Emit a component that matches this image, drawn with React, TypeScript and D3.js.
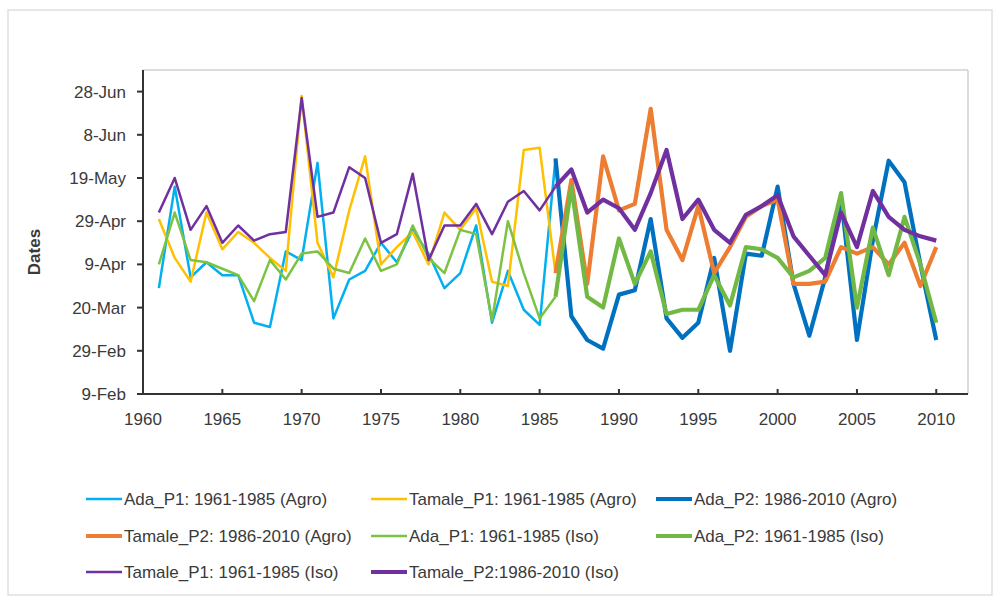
import React from "react";
import * as d3 from "d3";

// ---------- data (day-of-year in Excel serial style: 40 = 9-Feb) ----------
const yearsP1 = d3.range(1961, 1987); // 1961..1986 (P1 line joins the first P2 point)
const yearsP2 = d3.range(1986, 2011); // 1986..2010

const adaP1Agro = [89, 136, 94, 101, 95, 95, 73, 71, 106, 102, 147, 75, 93, 97, 110, 101, 116, 105, 89, 96, 118, 73, 97, 79, 72, 149];
const tamaleP1Agro = [121, 103, 92, 124, 107, 115, 110, 103, 97, 178, 110, 94, 125, 150, 100, 108, 115, 100, 124, 116, 126, 92, 90, 153, 154, 96];
const adaP2Agro = [149, 76, 65, 61, 86, 88, 121, 75, 66, 73, 103, 60, 105, 104, 136, 91, 67, 94, 131, 65, 111, 148, 138, 100, 65];
const tamaleP2Agro = [96, 139, 91, 150, 125, 128, 172, 116, 102, 127, 96, 108, 122, 127, 130, 91, 91, 92, 108, 105, 108, 100, 110, 90, 108];
const adaP1Iso = [100, 124, 102, 101, 98, 95, 83, 102, 93, 105, 106, 98, 96, 112, 97, 100, 118, 103, 96, 116, 114, 74, 120, 96, 75, 85];
const adaP2Iso = [85, 136, 85, 80, 112, 91, 106, 77, 79, 79, 95, 81, 108, 107, 103, 94, 97, 103, 133, 80, 117, 95, 122, 100, 73];
const tamaleP1Iso = [124, 140, 116, 127, 110, 118, 111, 114, 115, 177, 122, 124, 145, 140, 110, 114, 142, 102, 118, 118, 128, 114, 129, 134, 125, 136];
const tamaleP2Iso = [136, 144, 124, 130, 126, 116, 133, 153, 121, 130, 116, 110, 123, 127, 132, 113, 104, 95, 124, 108, 134, 122, 116, 113, 111];

const yTickValues = [40, 60, 80, 100, 120, 140, 160, 180];
const yTickLabels = ["9-Feb", "29-Feb", "20-Mar", "9-Apr", "29-Apr", "19-May", "8-Jun", "28-Jun"];
const xTickValues = [1960, 1965, 1970, 1975, 1980, 1985, 1990, 1995, 2000, 2005, 2010];

const seriesNames = [
  "Ada_P1: 1961-1985 (Agro)",
  "Tamale_P1: 1961-1985 (Agro)",
  "Ada_P2: 1986-2010 (Agro)",
  "Tamale_P2: 1986-2010 (Agro)",
  "Ada_P1: 1961-1985 (Iso)",
  "Ada_P2: 1961-1985 (Iso)",
  "Tamale_P1: 1961-1985 (Iso)",
  "Tamale_P2:1986-2010 (Iso)",
];
const seriesValues = [adaP1Agro, tamaleP1Agro, adaP2Agro, tamaleP2Agro, adaP1Iso, adaP2Iso, tamaleP1Iso, tamaleP2Iso];
const seriesYears = [yearsP1, yearsP1, yearsP2, yearsP2, yearsP1, yearsP2, yearsP1, yearsP2];
const seriesColors = ["#00B0F0", "#FFC000", "#0070C0", "#ED7D31", "#7DC243", "#72B844", "#7030A0", "#7030A0"];
const seriesWidths = [2.5, 2.5, 4.2, 4.2, 2.5, 4.2, 2.5, 4.2];

export default function App() {
  const W = 1004, H = 598;
  const x = d3.scaleLinear().domain([1960, 2012]).range([143, 968]);
  const y = d3.scaleLinear().domain([40, 190]).range([394, 70]);
  const font = "'Liberation Sans', Arial, sans-serif";
  const textColor = "#3a3a3a";

  const line = d3
    .line<[number, number]>()
    .x((d) => x(d[0]))
    .y((d) => y(d[1]));

  const legendCols = [86, 371, 656];
  const legendRows = [499, 536, 572];

  return (
    <svg
      width={W}
      height={H}
      style={{ position: "absolute", left: 0, top: 0, background: "#fff" }}
      fontFamily={font}
    >
      <rect x={0} y={0} width={W} height={H} fill="#fff" />
      <rect x={8} y={10} width={984} height={585} fill="none" stroke="#e0e0e0" strokeWidth={1.5} />
      {/* plot area frame */}
      <line x1={x(1960)} x2={x(2012)} y1={y(190)} y2={y(190)} stroke="#d0d0d0" strokeWidth={1.5} />
      <line x1={x(2012)} x2={x(2012)} y1={y(190)} y2={y(40)} stroke="#d0d0d0" strokeWidth={1.5} />

      {/* y axis */}
      <line x1={x(1960)} x2={x(1960)} y1={y(190)} y2={y(40) + 1} stroke="#333" strokeWidth={2} />
      {yTickValues.map((v, i) => (
        <g key={v}>
          <line x1={x(1960) - 6} x2={x(1960)} y1={y(v)} y2={y(v)} stroke="#333" strokeWidth={2} />
          <text x={126} y={y(v)} dy="0.35em" textAnchor="end" fontSize={17} fill={textColor}>
            {yTickLabels[i]}
          </text>
        </g>
      ))}
      {/* x axis */}
      <line x1={x(1960) - 1} x2={x(2012)} y1={y(40)} y2={y(40)} stroke="#333" strokeWidth={2} />
      {xTickValues.map((v) => (
        <g key={v}>
          <line x1={x(v)} x2={x(v)} y1={y(40) - 5} y2={y(40)} stroke="#333" strokeWidth={2} />
          <text x={x(v)} y={419} dy="0.35em" textAnchor="middle" fontSize={17} fill={textColor}>
            {v}
          </text>
        </g>
      ))}
      <text
        transform={`translate(34,252) rotate(-90)`}
        textAnchor="middle"
        dy="0.35em"
        fontSize={17}
        fontWeight="bold"
        fill={textColor}
      >
        Dates
      </text>

      {/* series */}
      {seriesValues.map((vals, i) => (
        <path
          key={i}
          d={line(vals.map((v, j) => [seriesYears[i][j], v] as [number, number])) || ""}
          fill="none"
          stroke={seriesColors[i]}
          strokeWidth={seriesWidths[i]}
          strokeLinejoin="round"
        />
      ))}

      {/* legend */}
      {seriesNames.map((name, i) => {
        const cx = legendCols[i % 3];
        const cy = legendRows[Math.floor(i / 3)];
        return (
          <g key={name}>
            <line x1={cx} x2={cx + 36} y1={cy} y2={cy} stroke={seriesColors[i]} strokeWidth={seriesWidths[i]} />
            <text x={cx + 38} y={cy} dy="0.35em" fontSize={17} fill={textColor}>
              {name}
            </text>
          </g>
        );
      })}
    </svg>
  );
}
